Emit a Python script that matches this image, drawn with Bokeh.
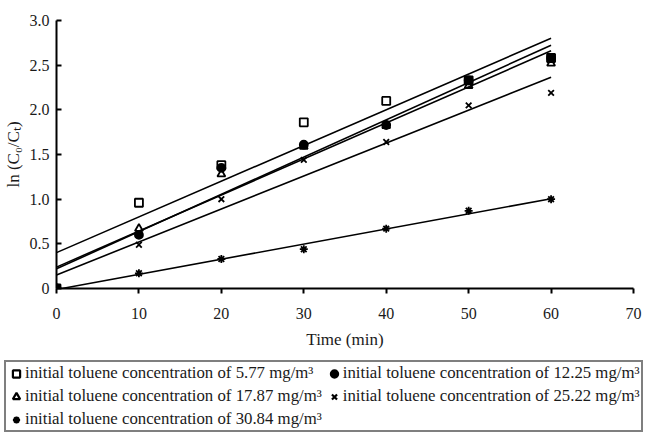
import numpy as np
from bokeh.plotting import figure
from bokeh.layouts import column
from bokeh.models import Legend, LegendItem, FixedTicker, Range1d, NumeralTickFormatter
from bokeh.embed import file_html
from bokeh.resources import INLINE

time_min = [0, 10, 20, 30, 40, 50, 60]
c_577 = [0, 0.96, 1.38, 1.86, 2.10, 2.33, 2.58]
c_1225 = [0, 0.60, 1.35, 1.61, 1.83, 2.33, 2.58]
c_1787 = [0, 0.67, 1.28, 1.59, 1.82, 2.27, 2.52]
c_2522 = [0, 0.49, 1.00, 1.44, 1.64, 2.05, 2.19]
c_3084 = [0, 0.17, 0.33, 0.44, 0.67, 0.87, 1.00]

labels = [
    "initial toluene concentration of 5.77 mg/m³",
    "initial toluene concentration of 12.25 mg/m³",
    "initial toluene concentration of 17.87 mg/m³",
    "initial toluene concentration of 25.22 mg/m³",
    "initial toluene concentration of 30.84 mg/m³",
]
series = [c_577, c_1225, c_1787, c_2522, c_3084]
markers = ["square", "circle", "triangle", "x", "asterisk"]
filled = [False, True, False, False, False]
x_ticks = [0, 10, 20, 30, 40, 50, 60, 70]
y_ticks = [0, 0.5, 1.0, 1.5, 2.0, 2.5, 3.0]

FONT = "Liberation Serif"
TXT = "#1a1a1a"

p = figure(width=645, height=352, output_backend="svg", toolbar_location=None,
           x_range=Range1d(0, 70), y_range=Range1d(0, 3.0),
           min_border_left=54, min_border_right=12, min_border_top=20,
           min_border_bottom=64)
p.frame_align = False
p.outline_line_color = None
p.xgrid.grid_line_color = None
p.ygrid.grid_line_color = None

for ax in (p.xaxis[0], p.yaxis[0]):
    ax.axis_line_width = 2
    ax.axis_line_color = "black"
    ax.major_tick_line_width = 2
    ax.major_tick_line_color = "black"
    ax.minor_tick_line_color = None
    ax.major_label_text_font = FONT
    ax.major_label_text_font_size = "16px"
    ax.major_label_text_color = TXT
    ax.axis_label_text_font = FONT
    ax.axis_label_text_font_size = "17px"
    ax.axis_label_text_font_style = "normal"
    ax.axis_label_text_color = TXT

p.xaxis.ticker = FixedTicker(ticks=x_ticks)
p.yaxis.ticker = FixedTicker(ticks=y_ticks)
p.yaxis.formatter = NumeralTickFormatter(format="0.0")
p.yaxis.major_label_overrides = {0: "0"}
p.xaxis.major_tick_out = 5
p.xaxis.major_tick_in = 0
p.yaxis.major_tick_out = 0
p.yaxis.major_tick_in = 5
p.xaxis.major_label_standoff = 14
p.yaxis.major_label_standoff = 7
p.xaxis.axis_label = "Time (min)"
p.yaxis.axis_label = "ln (C₀/Cₜ)"
p.xaxis.axis_label_standoff = 8
p.yaxis.axis_label_standoff = 4

# legend panel: a second figure whose frame holds only the legend
pl = figure(width=645, height=85, output_backend="svg", toolbar_location=None,
            x_range=Range1d(1000, 1001), y_range=Range1d(1000, 1001),
            x_axis_type=None, y_axis_type=None,
            min_border_left=0, min_border_right=0, min_border_top=4,
            min_border_bottom=0)
pl.frame_align = False
pl.outline_line_color = None
pl.xgrid.grid_line_color = None
pl.ygrid.grid_line_color = None

renderers = []
tx = np.array([time_min[0], time_min[-1]], dtype=float)
for ys, mk, fl in zip(series, markers, filled):
    slope, icpt = np.polyfit(time_min, ys, 1)
    p.line(tx, slope * tx + icpt, line_color="black", line_width=1.6)
    style = dict(marker=mk, size=8, line_color="black", line_width=1.8,
                 fill_color="black" if fl else None)
    p.scatter(time_min, ys, **style)
    lstyle = dict(style, line_width=2.2)
    renderers.append(pl.scatter(time_min, ys, **lstyle))

# legend is filled column by column: left column 1st/3rd/5th, right 2nd/4th
order = [0, 2, 4, 1, 3]
items = [LegendItem(label=labels[i], renderers=[renderers[i]]) for i in order]

legend = Legend(items=items, location="top_left", nrows=3,
                label_text_font=FONT, label_text_font_size="16.8px",
                label_text_color=TXT,
                glyph_width=18, glyph_height=19, label_standoff=0,
                spacing=3, padding=1, margin=4,
                border_line_color="black", border_line_width=2,
                background_fill_color="white", background_fill_alpha=1)
pl.add_layout(legend, "center")

layout = column(p, pl, spacing=0)
open("out.html", "w").write(file_html(layout, INLINE))
